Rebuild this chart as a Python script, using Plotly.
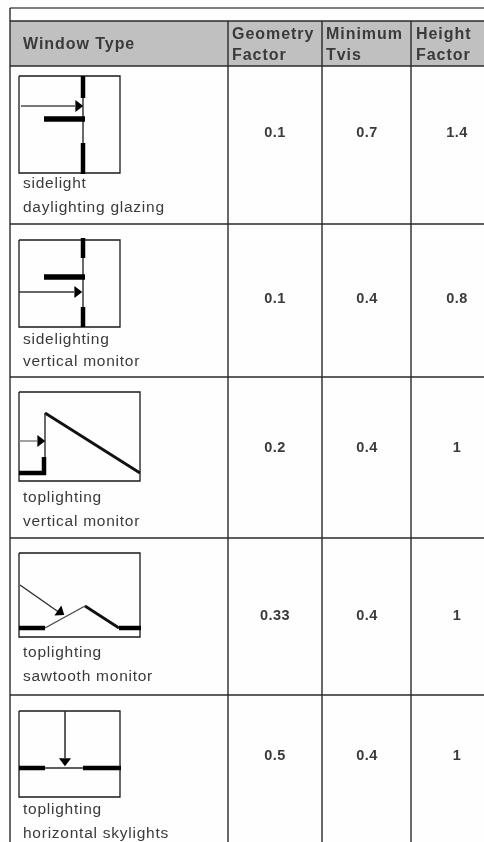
import plotly.graph_objects as go

# ---- table content ----
header_window = "Window Type"
header_geometry = ["Geometry", "Factor"]
header_tvis = ["Minimum", "Tvis"]
header_height = ["Height", "Factor"]
caption_line1 = ["sidelight", "sidelighting", "toplighting", "toplighting", "toplighting"]
caption_line2 = ["daylighting glazing", "vertical monitor", "vertical monitor", "sawtooth monitor", "horizontal skylights"]
geometry_factor = ["0.1", "0.1", "0.2", "0.33", "0.5"]
minimum_tvis = ["0.7", "0.4", "0.4", "0.4", "0.4"]
height_factor = ["1.4", "0.8", "1", "1", "1"]

# ---- layout (page pixels) ----
W, H = 484, 842
INK = "#2a2a2a"
TXT = "#3a3a3a"
col_lines = [10, 228, 322, 411]
row_lines = [21, 66, 224, 377, 538, 695]
value_y = [133, 299, 448, 616, 756]
value_x = [275, 367, 457]
cap_y = [(184, 208), (340, 362), (498, 522), (653, 677), (810, 834)]

fig = go.Figure()
shapes = [
    dict(type="rect", x0=10, x1=W, y0=21, y1=66, fillcolor="#c0c0c0", line_width=0, layer="below"),
    dict(type="line", x0=10, x1=W, y0=8, y1=8, line=dict(color="#555", width=1.5)),
    dict(type="line", x0=10, x1=10, y0=8, y1=H, line=dict(color=INK, width=1.4)),
]
for x in col_lines[1:]:
    shapes.append(dict(type="line", x0=x, x1=x, y0=21, y1=H, line=dict(color=INK, width=1.4)))
for y in row_lines:
    shapes.append(dict(type="line", x0=10, x1=W, y0=y, y1=y, line=dict(color=INK, width=1.5)))


def seg(xs, ys, width, color=INK):
    fig.add_trace(go.Scatter(x=xs, y=ys, mode="lines", line=dict(color=color, width=width),
                             hoverinfo="skip", showlegend=False))


def head(x, y, angle):
    fig.add_trace(go.Scatter(x=[x], y=[y], mode="markers", hoverinfo="skip", showlegend=False,
                             marker=dict(symbol="triangle-up", size=10.5, angle=angle, color="#000",
                                         line_width=0)))


BLK = "#000"
# diagram boxes
for x0, x1, y0, y1 in [(19, 120, 76, 173), (19, 120, 240, 327), (19, 140, 392, 481),
                       (19, 140, 553, 637), (19, 120, 711, 797)]:
    seg([x0, x1, x1, x0, x0], [y0, y0, y1, y1, y0], 1.3, "#1a1a1a")

# sidelight
seg([83, 83], [76, 174], 1.4)
seg([83, 83], [76, 98], 4.5, BLK)
seg([83, 83], [143, 174], 4.5, BLK)
seg([44, 85], [119, 119], 5.5, BLK)
seg([21, 75], [106, 106], 1.8, "#777")
head(78, 106, 90)
# sidelighting
seg([83, 83], [238, 327], 1.4)
seg([83, 83], [238, 258], 4.5, BLK)
seg([83, 83], [307, 327], 4.5, BLK)
seg([44, 85], [277, 277], 5.5, BLK)
seg([19, 74], [292, 292], 1.4, "#333")
head(77, 292, 90)
# vertical monitor
seg([45, 140], [413, 473], 2.8, "#111")
seg([45, 45], [413, 458], 1.4)
seg([44, 44], [457, 475], 4.5, BLK)
seg([19, 46], [473, 473], 4.5, BLK)
seg([19, 37], [441, 441], 1.6, "#888")
head(40, 441, 90)
# sawtooth
seg([19, 45], [628, 628], 4.5, BLK)
seg([119, 141], [628, 628], 4.5, BLK)
seg([45, 85], [628, 606], 1.3, "#444")
seg([85, 119], [606, 628], 2.8, "#111")
seg([20, 60], [585, 613], 1.3)
head(60, 612, 125)
# skylights
seg([19, 45], [768, 768], 4.5, BLK)
seg([83, 121], [768, 768], 4.5, BLK)
seg([45, 83], [768, 768], 1.4)
seg([65, 65], [711, 758], 1.5)
head(65, 761, 180)


def text(xs, ys, labels, size, bold=False, pos="middle right", color=TXT):
    fig.add_trace(go.Scatter(x=xs, y=ys, text=labels, mode="text", textposition=pos, hoverinfo="skip",
                             showlegend=False,
                             textfont=dict(family="Liberation Sans", size=size, color=color,
                                           weight="bold" if bold else "normal")))


text([23], [45], [header_window], 16, True)
text([232, 232], [35, 56], header_geometry, 16, True)
text([326, 326], [35, 56], header_tvis, 16, True)
text([416, 416], [35, 56], header_height, 16, True)
text([23] * 5, [c[0] for c in cap_y], caption_line1, 15.5)
text([23] * 5, [c[1] for c in cap_y], caption_line2, 15.5)
for x, vals in zip(value_x, [geometry_factor, minimum_tvis, height_factor]):
    text([x] * 5, value_y, vals, 14.5, True, pos="middle center")

fig.update_layout(
    width=W, height=H, margin=dict(l=0, r=0, t=0, b=0),
    paper_bgcolor="#fefefe", plot_bgcolor="#fefefe", shapes=shapes, showlegend=False,
    xaxis=dict(range=[0, W], visible=False, fixedrange=True),
    yaxis=dict(range=[H, 0], visible=False, fixedrange=True),
)
post = """
document.body.style.margin='0';document.body.style.overflow='hidden';
document.body.style.filter='blur(0.4px)';
document.querySelectorAll('.textpoint text').forEach(function(t){
  var fs=parseFloat(t.style.fontSize), bold=String(t.style.fontWeight)!=='normal'&&String(t.style.fontWeight)!=='400';
  t.style.letterSpacing = bold ? (fs>15 ? '0.95px' : '0.5px') : '0.75px';
});
"""
fig.write_html("out.html", config={"displayModeBar": False}, post_script=post)
